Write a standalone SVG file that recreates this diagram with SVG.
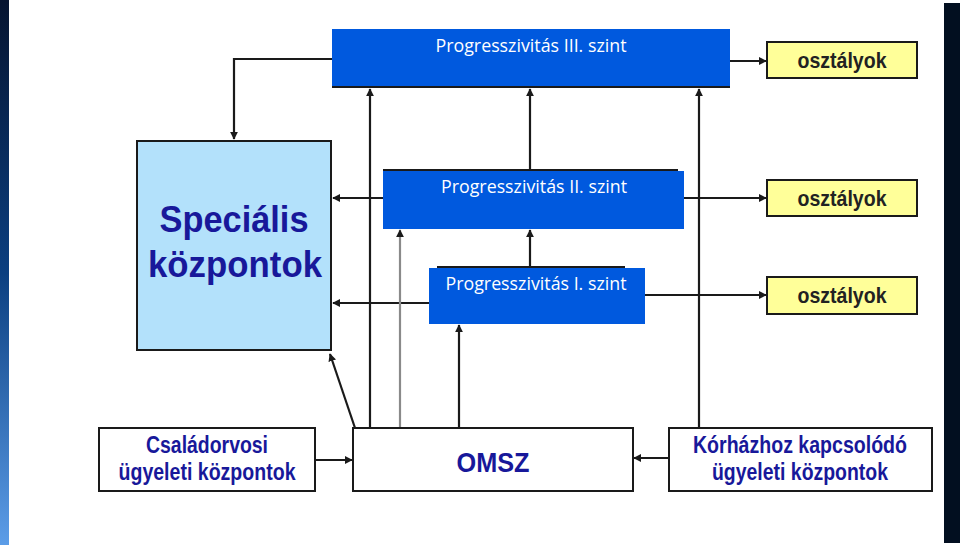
<svg xmlns="http://www.w3.org/2000/svg" width="960" height="548" viewBox="0 0 960 548">
  <defs>
    <linearGradient id="leftStrip" x1="0" y1="0" x2="0" y2="1">
      <stop offset="0" stop-color="#061430"/>
      <stop offset="0.5" stop-color="#0b3f80"/>
      <stop offset="1" stop-color="#5c9de8"/>
    </linearGradient>
    <marker id="arr" viewBox="0 0 10 10" refX="9" refY="5" markerWidth="3.6" markerHeight="3.6" orient="auto" markerUnits="strokeWidth">
      <path d="M0,0 L10,5 L0,10 z" fill="#1a1a1a"/>
    </marker>
  </defs>
  <style>
    .blue { fill: #0059de; }
    .blueTxt { font-family: "Open Sans", "Liberation Sans", sans-serif; font-size: 19px; fill: #ffffff; text-anchor: middle; }
    .yel { fill: #ffff99; stroke: #1a1a1a; stroke-width: 2; }
    .yelTxt { font-family: "Liberation Sans", Arial, sans-serif; font-weight: bold; font-size: 22px; fill: #222222; text-anchor: middle; }
    .wbox { fill: #ffffff; stroke: #1a1a1a; stroke-width: 2; }
    .navyTxt { font-family: "Liberation Sans", Arial, sans-serif; font-weight: bold; fill: #18189a; text-anchor: middle; }
    .conn { fill: none; stroke: #1a1a1a; stroke-width: 2.2; }
    .connGray { fill: none; stroke: #8a8a8a; stroke-width: 2.2; }
  </style>
  <rect x="0" y="0" width="960" height="548" fill="#ffffff"/>
  <rect x="0" y="0" width="9" height="545" fill="url(#leftStrip)"/>
  <rect x="944" y="3" width="16" height="540" fill="#020f20"/>

  <g id="connectors">
    <path class="conn" d="M332,59 H234 V139" marker-end="url(#arr)"/>
    <path class="conn" d="M730,61 H766" marker-end="url(#arr)"/>
    <path class="conn" d="M684,198 H766" marker-end="url(#arr)"/>
    <path class="conn" d="M645,295 H766" marker-end="url(#arr)"/>
    <path class="conn" d="M383,198 H333" marker-end="url(#arr)"/>
    <path class="conn" d="M429,303 H333" marker-end="url(#arr)"/>
    <path class="conn" d="M370,428 V89" marker-end="url(#arr)"/>
    <path class="connGray" d="M400,428 V230" marker-end="url(#arr)"/>
    <path class="conn" d="M530,267 V230" marker-end="url(#arr)"/>
    <path class="conn" d="M530,170 V89" marker-end="url(#arr)"/>
    <path class="conn" d="M459,428 V325" marker-end="url(#arr)"/>
    <path class="conn" d="M699,436 V89" marker-end="url(#arr)"/>
    <path class="conn" d="M315,460 H352" marker-end="url(#arr)"/>
    <path class="conn" d="M669,458 H634" marker-end="url(#arr)"/>
    <path class="conn" d="M355,428 L330,354" marker-end="url(#arr)"/>
  </g>

  <g id="prog3">
    <rect class="blue" x="332" y="29" width="398" height="58"/>
    <line x1="332" y1="87" x2="730" y2="87" stroke="#1a1a1a" stroke-width="2"/>
    <text class="blueTxt" x="531" y="52" textLength="191" lengthAdjust="spacingAndGlyphs">Progresszivitás III. szint</text>
  </g>

  <g id="prog2">
    <rect class="blue" x="383" y="171" width="301" height="58"/>
    <line x1="383" y1="170" x2="678" y2="170" stroke="#1a1a1a" stroke-width="2"/>
    <text class="blueTxt" x="534" y="193" textLength="186" lengthAdjust="spacingAndGlyphs">Progresszivitás II. szint</text>
  </g>

  <g id="prog1">
    <rect class="blue" x="429" y="268" width="216" height="56"/>
    <line x1="437" y1="267" x2="625" y2="267" stroke="#1a1a1a" stroke-width="2"/>
    <text class="blueTxt" x="536" y="290" textLength="181" lengthAdjust="spacingAndGlyphs">Progresszivitás I. szint</text>
  </g>

  <g id="osztalyok1">
    <rect class="yel" x="767" y="42" width="150" height="36"/>
    <text class="yelTxt" x="842" y="68" textLength="89" lengthAdjust="spacingAndGlyphs">osztályok</text>
  </g>
  <g id="osztalyok2">
    <rect class="yel" x="767" y="180" width="150" height="36"/>
    <text class="yelTxt" x="842" y="206" textLength="89" lengthAdjust="spacingAndGlyphs">osztályok</text>
  </g>
  <g id="osztalyok3">
    <rect class="yel" x="767" y="277" width="150" height="37"/>
    <text class="yelTxt" x="842" y="303" textLength="89" lengthAdjust="spacingAndGlyphs">osztályok</text>
  </g>

  <g id="specialis">
    <rect x="137" y="141" width="194" height="209" fill="#b3e1fb" stroke="#1a1a1a" stroke-width="2"/>
    <text class="navyTxt" x="234" y="232" font-size="37" textLength="149" lengthAdjust="spacingAndGlyphs">Speciális</text>
    <text class="navyTxt" x="235" y="277" font-size="37" textLength="174" lengthAdjust="spacingAndGlyphs">központok</text>
  </g>

  <g id="csaladorvosi">
    <rect class="wbox" x="99" y="428" width="216" height="63"/>
    <text class="navyTxt" x="207" y="453" font-size="23" textLength="122" lengthAdjust="spacingAndGlyphs">Családorvosi</text>
    <text class="navyTxt" x="207" y="480" font-size="23" textLength="177" lengthAdjust="spacingAndGlyphs">ügyeleti központok</text>
  </g>

  <g id="omsz">
    <rect class="wbox" x="353" y="428" width="280" height="63"/>
    <text class="navyTxt" x="493" y="472" font-size="28" textLength="73" lengthAdjust="spacingAndGlyphs">OMSZ</text>
  </g>

  <g id="korhaz">
    <rect class="wbox" x="669" y="428" width="263" height="63"/>
    <text class="navyTxt" x="800" y="453" font-size="23" textLength="214" lengthAdjust="spacingAndGlyphs">Kórházhoz kapcsolódó</text>
    <text class="navyTxt" x="800" y="480" font-size="23" textLength="176" lengthAdjust="spacingAndGlyphs">ügyeleti központok</text>
  </g>
</svg>
